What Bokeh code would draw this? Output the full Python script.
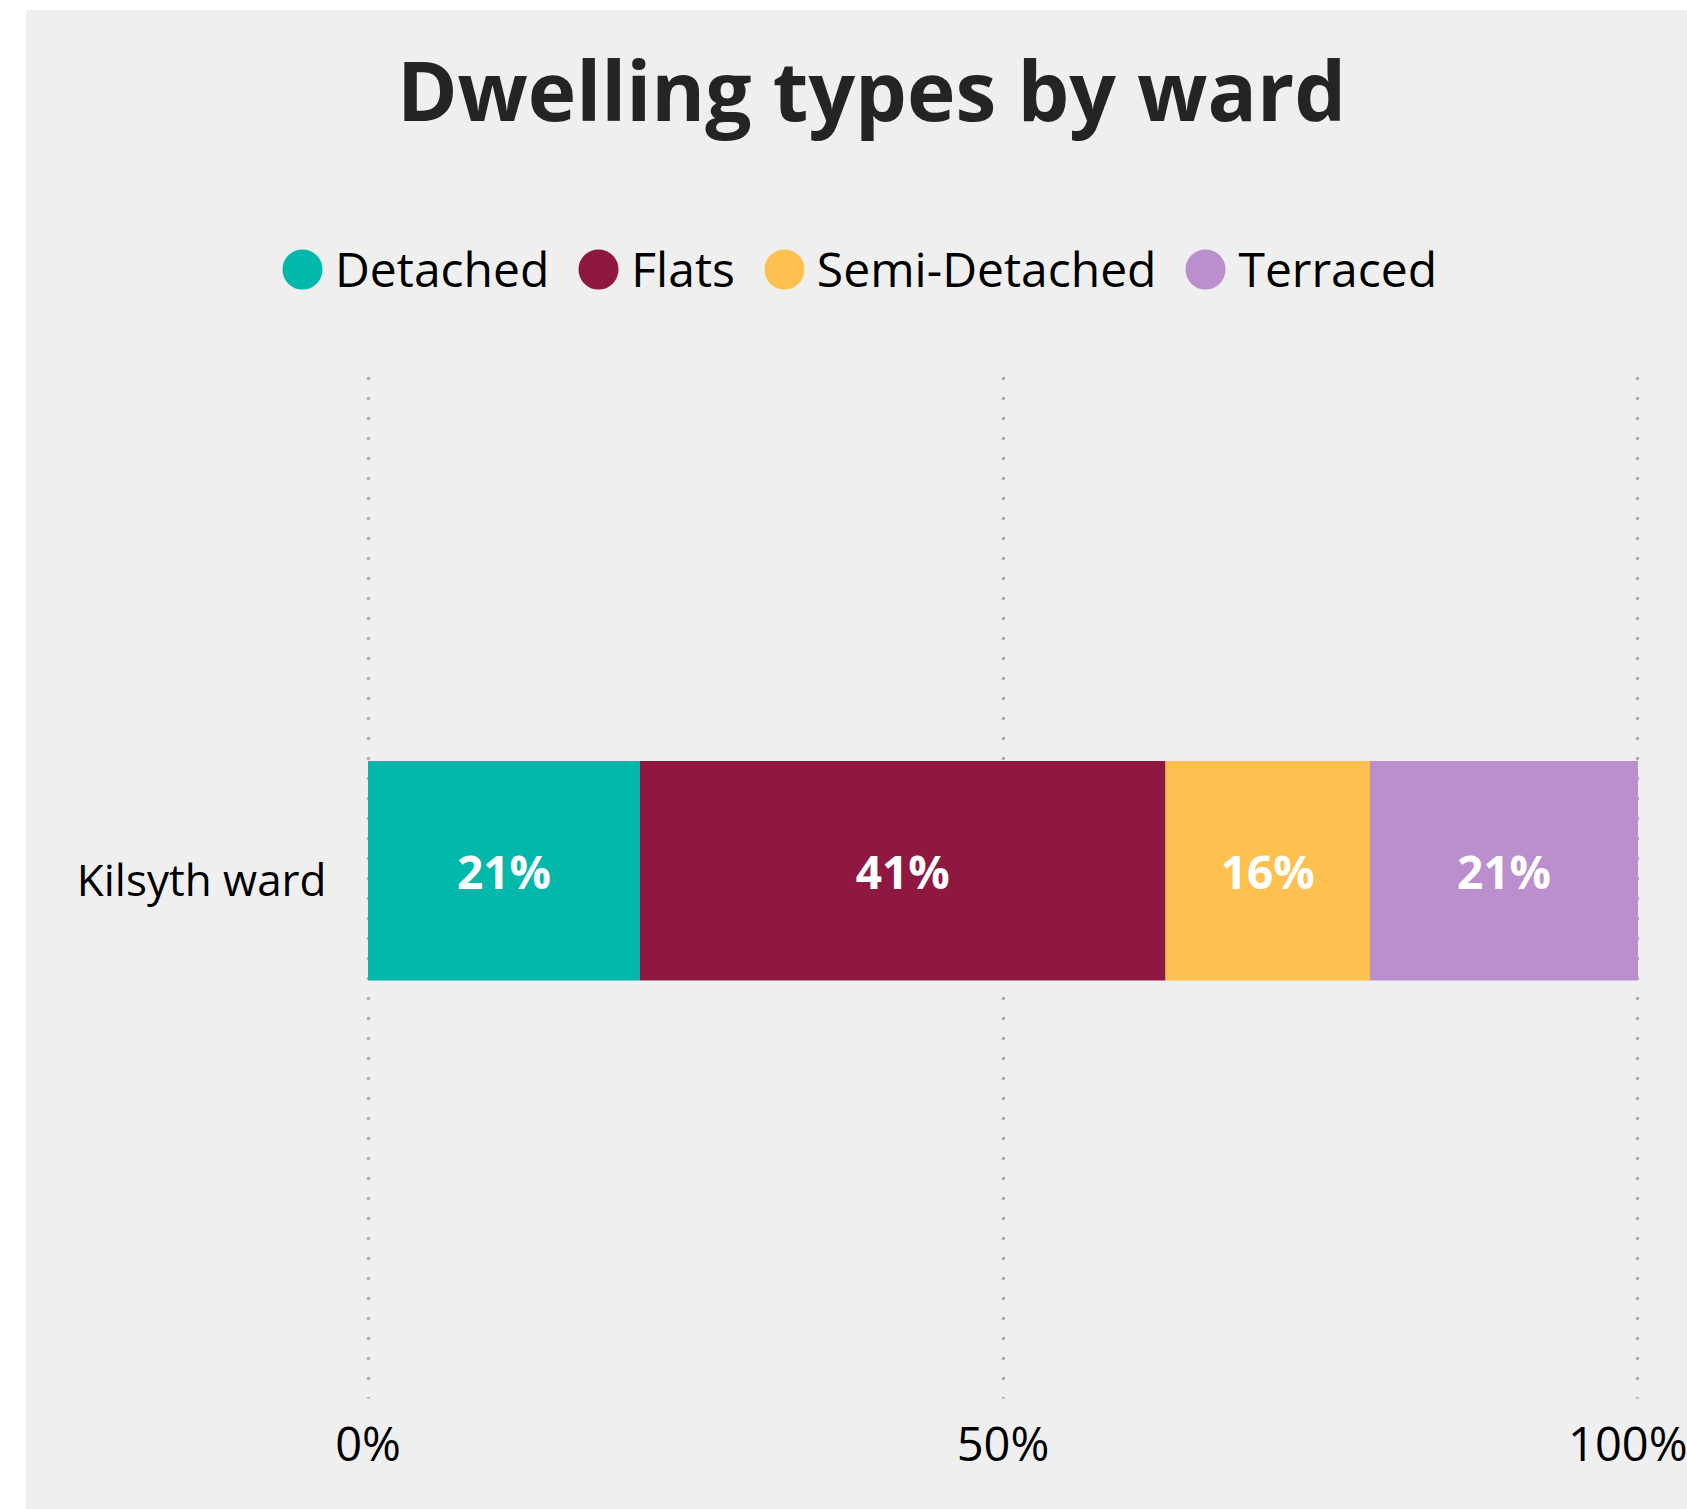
import numpy as np
from bokeh.plotting import figure
from bokeh.layouts import row, column
from bokeh.models import (Range1d, FactorRange, FixedTicker, PrintfTickFormatter,
                          Legend, LegendItem, Label, ColumnDataSource, Spacer)
from bokeh.transform import dodge
from bokeh.core.properties import value
from bokeh.embed import file_html
from bokeh.resources import INLINE

# ---- data ----
ward = ["Kilsyth ward"]
categories = ["Detached", "Flats", "Semi-Detached", "Terraced"]
shares = [21.4, 41.4, 16.1, 21.1]          # percent of dwellings
colors = ["#01B8AA", "#8F1842", "#FEC04F", "#BB8FCD"]
x_ticks = [0, 50, 100]
title_text = "Dwelling types by ward"

FONT = "Open Sans"
BG = "#EFEFEF"
W = 1661

# ---------- header figure: title + legend ----------
head = figure(width=W, height=348, output_backend="svg", toolbar_location=None,
              x_range=Range1d(0, 1), y_range=Range1d(0, 1),
              x_axis_type=None, y_axis_type=None,
              background_fill_color=BG, border_fill_color=BG,
              min_border_left=0, min_border_right=0, min_border_top=0, min_border_bottom=0)
head.outline_line_color = None
head.grid.visible = False

items = []
for c, col in zip(categories, colors):
    r = head.scatter(x=[np.nan], y=[np.nan], marker="circle", size=0,
                     fill_color=col, line_color=col, line_width=20)
    items.append(LegendItem(label=c, renderers=[r]))
legend = Legend(items=items, orientation="horizontal", location=(251, 57),
                glyph_width=50, glyph_height=50, label_standoff=8, spacing=24,
                padding=0, margin=0, border_line_color=None, background_fill_alpha=0,
                label_text_font=FONT, label_text_font_size="48px",
                label_text_color="#000000")
head.add_layout(legend, "center")

head.add_layout(Label(x=845, y=270, x_units="screen", y_units="screen",
                      text=title_text, text_align="center", text_baseline="alphabetic",
                      text_font=FONT, text_font_style="bold", text_font_size="82px",
                      text_color="#252423"))

# ---------- chart figure ----------
p = figure(width=W, height=1151, output_backend="svg", toolbar_location=None,
           x_range=Range1d(-0.2, 100.2), y_range=FactorRange(factors=ward, range_padding=0),
           background_fill_color=BG, border_fill_color=BG,
           min_border_left=339, min_border_right=47, min_border_top=0, min_border_bottom=111)
p.outline_line_color = None

p.xaxis.ticker = FixedTicker(ticks=x_ticks)
p.xaxis.formatter = PrintfTickFormatter(format="%d%%")
for ax in (p.xaxis[0], p.yaxis[0]):
    ax.axis_line_color = None
    ax.major_tick_line_color = None
    ax.minor_tick_line_color = None
    ax.major_tick_out = 0
    ax.major_tick_in = 0
    ax.major_label_text_font = FONT
    ax.major_label_text_color = "#000000"
p.xaxis.major_label_text_font_size = "47px"
p.xaxis.major_label_standoff = 12
p.yaxis.major_label_text_font_size = "44px"
p.yaxis.major_label_standoff = 39

p.ygrid.grid_line_color = None
p.xgrid.ticker = FixedTicker(ticks=x_ticks)
p.xgrid.grid_line_color = "#AAAAAA"
p.xgrid.grid_line_width = 3.5
p.xgrid.grid_line_dash = "0 20"
p.xgrid.grid_line_cap = "round"

lefts = list(np.cumsum([0] + shares[:-1]))
rights = list(np.cumsum(shares))
src = ColumnDataSource(dict(
    y=ward * len(categories), left=lefts, right=rights, color=colors,
    mid=[(l + r) / 2 for l, r in zip(lefts, rights)],
    lab=[f"{round(s)}%" for s in shares], cat=categories))
yoff = dodge("y", 0.0075, range=p.y_range)
p.hbar(y=yoff, left="left", right="right", height=0.211, fill_color="color",
       line_color=None, source=src)
p.text(x="mid", y=yoff, text="lab", source=src, text_color="white",
       text_font=value(FONT), text_font_style="bold", text_font_size="46px",
       text_align="center", text_baseline="middle")

bg_style = {"background-color": BG}
root1 = row(Spacer(width=26),
            column(Spacer(height=10),
                   column(head, styles=bg_style), spacing=0), spacing=0)
root2 = row(Spacer(width=26), column(p, styles=bg_style), spacing=0)
open("out.html", "w").write(file_html([root1, root2], INLINE))
